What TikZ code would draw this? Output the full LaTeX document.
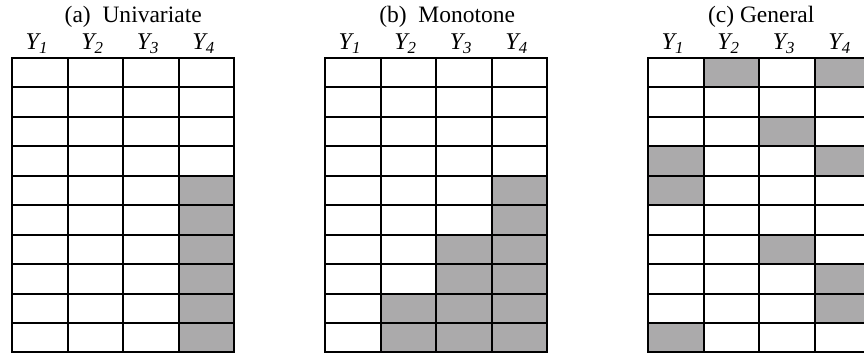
\documentclass[tikz,border=0pt]{standalone}
\usepackage{fontspec}
\setmainfont{Liberation Serif}
\usetikzlibrary{positioning,backgrounds}
\definecolor{missgray}{RGB}{171,170,171}

\begin{document}
\begin{tikzpicture}[x=1pt, y=-1pt, cell/.style = {draw, line width=2pt, minimum width=55.6pt, minimum height=29.45pt, inner sep=0pt}, var/.style = {font=\fontsize{24}{28}\selectfont\itshape, anchor=base}, title/.style = {font=\fontsize{23.5}{28}\selectfont, anchor=base}]
            \useasboundingbox (0,0) rectangle (864,354);

            \foreach \p/\left in {a/12, b/325, c/648} {
                \foreach \r in {1,...,10}
                    \foreach \c in {1,...,4}
                        \node[cell] (\p-\r-\c) at ({\left+27.8+(\c-1)*55.6}, {72.7+(\r-1)*29.45}) {};
                \foreach \c in {1,...,4}
                    \node[var] (\p-y\c) at ([xshift=-3pt, yshift=7pt]\p-1-\c.north) {Y\textsubscript{\c}};
            }

            \node[title] (ta) at ([xshift=9pt, yshift=34pt]a-1-2.north east) {(a)\ \ Univariate};
            \node[title] (tb) at ([xshift=10pt, yshift=34pt]b-1-2.north east) {(b)\ \ Monotone};
            \node[title] (tc) at ([xshift=1pt, yshift=34pt]c-1-2.north east) {(c) General};

            \begin{scope}[on background layer]
                \fill[missgray] (a-5-4.north west) rectangle (a-10-4.south east);
                \fill[missgray] (b-5-4.north west) rectangle (b-10-4.south east);
                \fill[missgray] (b-7-3.north west) rectangle (b-10-3.south east);
                \fill[missgray] (b-9-2.north west) rectangle (b-10-2.south east);
                \foreach \r/\c in {1/2, 1/4, 3/3, 4/1, 4/4, 5/1, 7/3, 8/4, 9/4, 10/1}
                    \fill[missgray] (c-\r-\c.north west) rectangle (c-\r-\c.south east);
            \end{scope}
        \end{tikzpicture}
\end{document}
